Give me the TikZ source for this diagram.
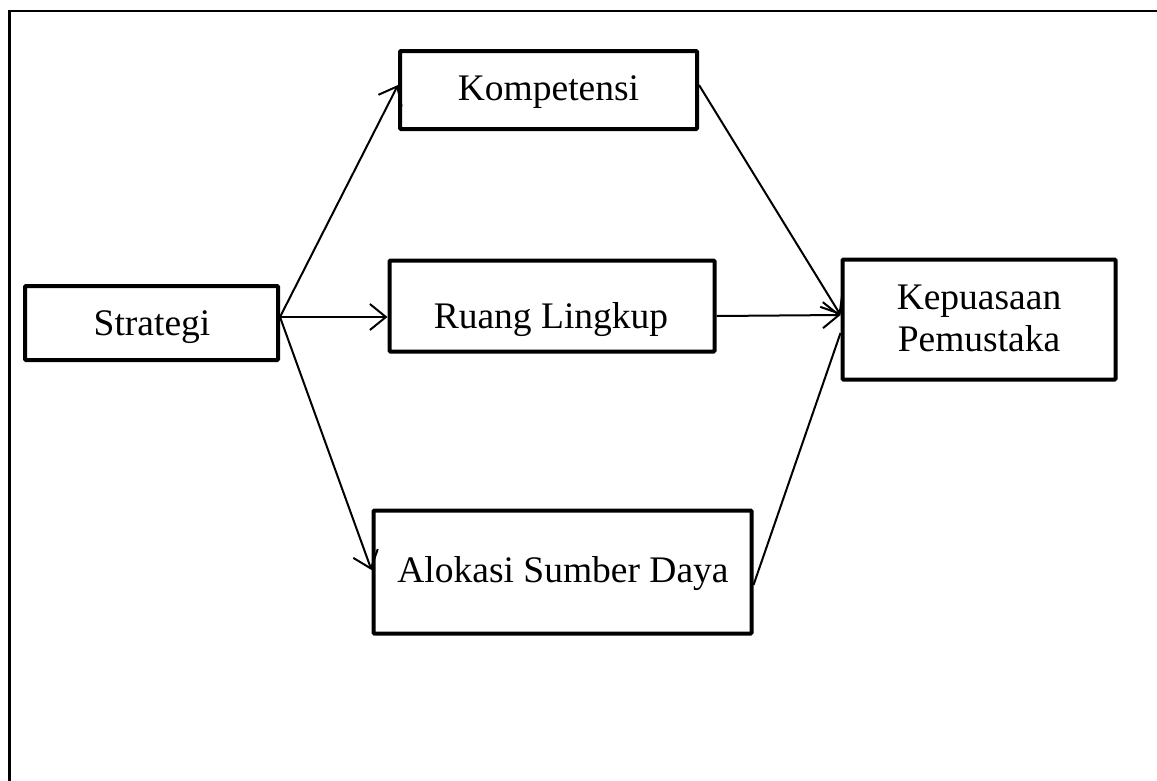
\documentclass[tikz,border=0pt]{standalone}
\usepackage{fontspec}
\setmainfont{Liberation Serif}
\usetikzlibrary{arrows.meta}
\begin{document}
\begin{tikzpicture}[x=1pt,y=-1pt,
  box/.style={draw, line width=4pt, rounded corners=1pt, inner sep=0pt},
  lbl/.style={inner sep=0pt, align=center, font=\fontsize{37.5}{42}\selectfont},
  conn/.style={line width=2pt},
  arr/.style={conn, -{Straight Barb[length=16pt,width=26pt,line width=2pt]}}]
\useasboundingbox (0,0) rectangle (1157,780);
\draw[line width=2.7pt] (9.5,790) -- (9.5,11) -- (1170,11);
% boxes
\node[box, minimum width=253pt, minimum height=74pt] (strat) at (151.5,323) {};
\node[box, minimum width=297pt, minimum height=78pt] (komp) at (548.5,90) {};
\node[box, minimum width=325pt, minimum height=91pt] (ruang) at (552,306) {};
\node[box, minimum width=378pt, minimum height=123pt] (alok) at (562.5,572) {};
\node[box, minimum width=273pt, minimum height=120pt] (kep) at (979,319.5) {};
% labels
\node[lbl] (stratt) at (152,327) {Strategi};
\node[lbl] (kompt) at (548.5,92) {Kompetensi};
\node[lbl] (ruangt) at (551,320) {Ruang Lingkup};
\node[lbl] (alokt) at (563,574) {Alokasi Sumber Daya};
\node[lbl] (kept) at (979,318) {Kepuasaan\\Pemustaka};
% connectors
\coordinate (s) at ([yshift=6pt]strat.east);
\draw[arr] (s) -- ([yshift=5pt]komp.west);
\draw[arr] (s) -- ([yshift=-11pt]ruang.west);
\draw[arr] (s) -- ([yshift=2pt]alok.west);
\draw[arr] ([yshift=5pt]komp.east) -- ([yshift=4.5pt]kep.west);
\draw[arr] ([yshift=-10pt]ruang.east) -- ([yshift=4.5pt]kep.west);
\draw[conn] ([yshift=-13pt]alok.east) -- ([yshift=-13.5pt]kep.west);
\end{tikzpicture}
\end{document}
